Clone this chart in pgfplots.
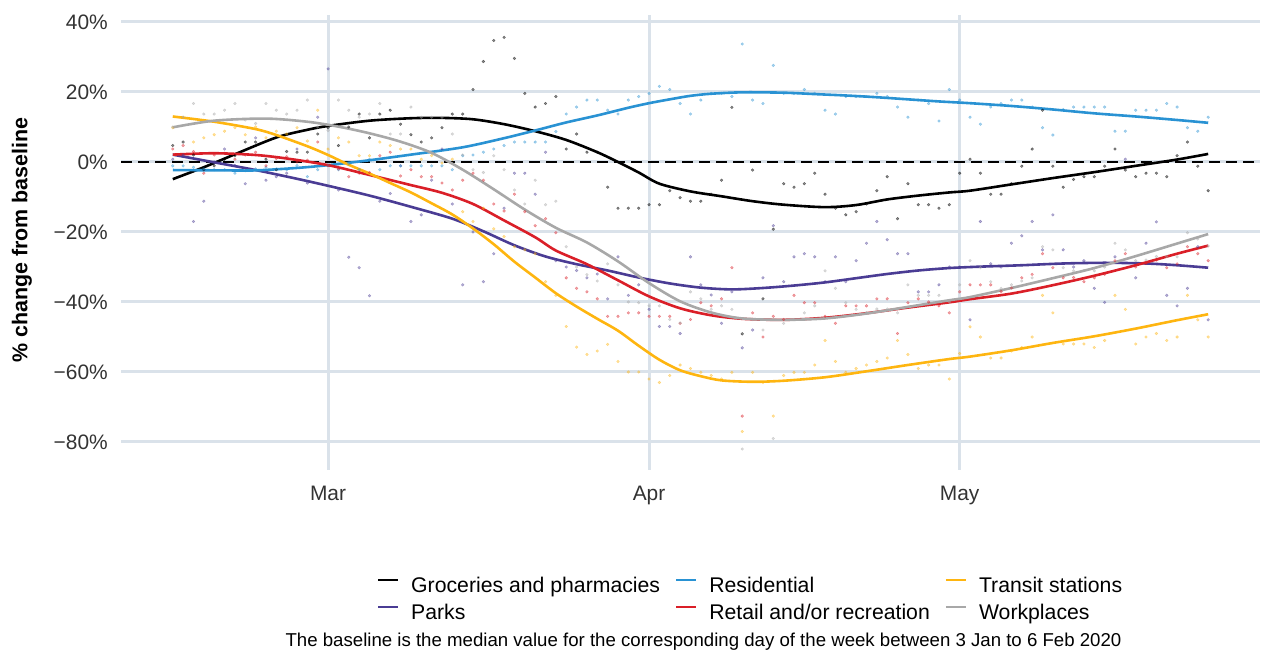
\documentclass[border=0pt]{standalone}
\usepackage{fontspec}
\setmainfont{Liberation Sans}
\usepackage{pgfplots}
\pgfplotsset{compat=1.18}
\usepackage{pgfplotstable}
\definecolor{cGro}{RGB}{0,0,0}
\definecolor{cRes}{RGB}{41,146,211}
\definecolor{cTra}{RGB}{254,181,16}
\definecolor{cPar}{RGB}{74,60,148}
\definecolor{cRet}{RGB}{218,31,40}
\definecolor{cWor}{RGB}{168,168,168}
\definecolor{cGrid}{RGB}{218,226,234}

% day: 0 = 1 March 2020
\pgfplotstableread{
day groc resid transit parks retail work
-15 4.7 -1.1 9.8 0.8 3.7 10.0
-14 5.7 -1.1 12.8 2.0 4.7 12.8
-13 2.0 -1.5 5.7 -17.0 3.0 16.7
-12 -2.2 -2.0 6.9 -11.2 -3.2 13.7
-11 -1.1 -2.2 7.8 0.0 2.0 13.7
-10 0.8 -2.2 8.8 3.7 2.5 14.8
-9 1.8 -3.2 9.8 -1.0 0.8 16.7
-8 5.7 -2.5 7.8 -6.2 2.0 12.0
-7 5.7 -2.0 10.0 6.9 2.8 11.0
-6 0.8 -1.5 6.9 -5.2 -1.1 16.7
-5 -2.2 -2.0 8.8 -4.2 1.0 14.8
-4 3.0 -2.2 8.0 -3.2 1.5 13.7
-3 2.8 -1.0 9.8 3.7 0.0 14.8
-2 2.8 -4.2 6.0 -6.0 0.5 17.7
-1 8.0 -2.2 14.8 12.8 5.7 10.0
0 9.8 -1.0 3.7 26.6 -1.0 9.0
1 4.7 -2.2 6.9 -8.0 -2.0 17.7
2 10.0 -0.5 5.7 -27.2 -4.2 14.8
3 13.7 -2.2 1.8 -30.2 -3.2 12.8
4 6.9 0.8 1.8 -38.2 -3.0 13.7
5 13.7 -2.2 5.7 -11.2 1.8 16.7
6 14.8 -1.1 4.7 -9.0 2.8 8.0
7 10.8 -1.1 3.7 -1.1 -4.0 8.0
8 7.8 -1.1 3.7 -17.0 -2.2 15.7
9 5.7 -1.1 0.8 -15.1 -4.2 12.8
10 6.9 -1.1 1.8 -5.2 -4.2 12.8
11 9.8 -1.1 -0.3 3.7 -6.0 12.8
12 13.7 -2.2 0.8 -12.0 -8.0 8.0
13 13.7 1.8 -14.2 -35.1 -5.2 2.0
14 20.7 2.0 -17.0 -20.0 -3.2 -2.2
15 28.7 2.8 -13.2 -34.2 -5.2 -3.0
16 34.7 3.7 -19.1 -26.2 -12.0 1.8
17 35.6 4.7 -21.3 -13.2 -14.0 -2.2
18 29.6 5.7 -24.2 -3.2 -9.2 -8.0
19 19.6 5.7 -25.1 -3.2 -14.2 -12.0
20 15.7 5.7 -26.2 -9.2 -18.2 -5.2
21 16.7 5.7 -34.2 2.8 -16.2 -12.2
22 18.7 8.7 -38.1 -28.2 -20.2 -11.2
23 3.7 13.7 -47.0 -30.0 -33.1 -24.2
24 8.0 15.7 -52.9 -31.0 -36.1 -30.0
25 2.8 17.7 -55.0 -33.1 -37.1 -32.2
26 2.8 17.7 -54.0 -32.0 -39.1 -34.0
27 -7.2 14.8 -52.1 -39.1 -44.1 -29.1
28 -13.2 13.7 -57.0 -27.1 -44.1 -35.1
29 -13.2 17.7 -60.0 -38.1 -43.1 -40.0
30 -13.2 18.7 -60.0 -35.1 -43.1 -40.2
31 -12.2 19.6 -62.0 -42.1 -44.1 -41.1
32 -12.2 21.6 -63.0 -47.0 -44.1 -41.1
33 -8.2 20.7 -61.0 -47.0 -44.1 -45.0
34 -10.2 16.7 -58.0 -49.0 -46.1 -46.0
35 -11.2 13.7 -59.0 -27.1 -45.0 -37.1
36 -11.2 17.7 -60.1 -35.1 -40.2 -39.1
37 -9.2 19.6 -61.0 -38.0 -41.1 -42.1
38 -5.2 19.6 -62.0 -46.1 -39.1 -41.1
39 15.6 18.7 -60.1 -37.1 -30.2 -42.1
40 -49.1 33.7 -77.0 -53.1 -72.6 -82.0
41 -2.3 17.7 -60.1 -48.0 -43.1 -45.0
42 -39.1 16.7 -63.0 -33.1 -50.0 -48.0
43 -19.2 27.6 -72.6 -18.2 -44.1 -79.0
44 -6.2 19.6 -61.0 -34.2 -45.0 -46.1
45 -7.2 19.6 -60.1 -27.1 -38.1 -45.0
46 -6.2 20.7 -60.1 -26.2 -40.2 -43.1
47 -3.2 19.6 -58.0 -27.1 -40.2 -41.1
48 -9.2 14.8 -51.0 -34.2 -44.1 -31.1
49 -13.2 13.7 -57.0 -27.1 -46.1 -36.1
50 -15.1 18.7 -60.1 -34.2 -41.1 -40.2
51 -14.2 18.7 -59.0 -28.2 -41.1 -42.1
52 -12.0 18.7 -58.0 -23.2 -41.1 -43.0
53 -8.2 19.6 -57.0 -17.0 -39.1 -42.0
54 -4.2 18.7 -56.0 -22.2 -39.1 -42.0
55 -16.2 15.7 -51.0 -26.2 -49.0 -43.1
56 -6.2 12.8 -55.0 -26.2 -40.2 -35.1
57 -12.2 17.7 -59.0 -37.1 -39.1 -38.1
58 -12.2 16.7 -58.0 -37.1 -40.0 -38.1
59 -13.2 11.7 -58.0 -35.1 -41.1 -38.1
60 -12.2 20.7 -62.0 -30.0 -43.1 -40.0
61 -3.2 17.7 -54.7 -30.0 -37.1 -35.1
62 0.8 12.8 -47.1 -45.1 -35.1 -28.2
63 -3.2 10.8 -50.0 -17.0 -35.1 -30.2
64 -9.2 15.7 -56.0 -29.1 -35.1 -34.2
65 -9.2 16.7 -56.0 -30.0 -37.0 -36.1
66 -6.2 17.7 -54.0 -23.2 -36.0 -35.1
67 -1.2 17.7 -53.0 -21.1 -33.1 -34.0
68 3.7 15.7 -50.0 -17.0 -32.1 -33.1
69 14.8 9.8 -38.1 -25.1 -26.2 -24.2
70 -1.2 7.7 -43.1 -15.1 -30.2 -25.1
71 -7.2 15.0 -52.0 -25.1 -33.1 -30.2
72 -5.0 15.7 -52.0 -30.0 -33.0 -31.1
73 -4.2 15.7 -52.0 -28.2 -34.2 -31.0
74 -4.2 15.7 -53.0 -36.1 -33.1 -31.1
75 -1.2 15.7 -51.0 -40.1 -32.1 -30.0
76 3.7 8.8 -38.1 -27.1 -28.2 -23.2
77 -2.3 8.8 -42.1 0.8 -26.2 -25.1
78 -4.2 14.8 -52.0 -33.1 -30.0 -28.2
79 -3.2 14.8 -50.0 -23.2 -29.0 -28.0
80 -3.2 14.8 -49.0 -17.1 -28.0 -27.0
81 -4.2 16.7 -51.0 -38.1 -30.2 -27.0
82 1.8 15.7 -50.0 -41.1 -29.1 -27.1
83 5.7 9.8 -38.1 -36.1 -24.2 -20.2
84 -1.2 8.8 -45.1 -24.2 -26.2 -22.0
85 -8.2 12.8 -50.0 -45.1 -28.2 -24.0
}\dots

\begin{document}
\begin{tikzpicture}
\begin{axis}[
  at={(121bp,183bp)}, anchor=south west,
  scale only axis, width=1139bp, height=455bp,
  xmin=-20, xmax=90, ymin=-88, ymax=42,
  axis line style={draw=none},
  major tick length=0pt,
  xtick={0,31,61}, xticklabels={Mar,Apr,May},
  ytick={-80,-60,-40,-20,0,20,40},
  yticklabels={−80\%,−60\%,−40\%,−20\%,0\%,20\%,40\%},
  grid=major,
  major grid style={color=cGrid, line width=3bp},
  tick label style={font=\fontsize{21}{25}\selectfont, text=black!80},
  yticklabel style={anchor=east, inner sep=0pt, xshift=-13bp},
  xticklabel style={anchor=north, inner sep=0pt, yshift=-15.5bp},
  legend columns=3,
  legend cell align=left,
  legend style={at={(axis description cs:0.2248,-0.2363)}, anchor=north west,
    draw=none, fill=none, inner sep=0pt, outer sep=0pt,
    font=\fontsize{21.3}{25}\selectfont,
    nodes={inner sep=0pt, text height=15bp, text depth=4bp},
    row sep=8bp,
    /tikz/every odd column/.append style={column sep=12bp},
    /tikz/every even column/.append style={column sep=15bp}},
  legend image code/.code={\draw[#1, line width=2.2bp] (0bp,7bp) -- (20bp,7bp);},
]
\addlegendimage{cGro}\addlegendentry{Groceries and pharmacies}
\addlegendimage{cRes}\addlegendentry{Residential}
\addlegendimage{cTra}\addlegendentry{Transit stations}
\addlegendimage{cPar}\addlegendentry{Parks}
\addlegendimage{cRet}\addlegendentry{Retail and/or recreation}
\addlegendimage{cWor}\addlegendentry{Workplaces}

\addplot[forget plot, only marks, mark=*, mark size=1.4bp, color=cGro, opacity=0.45] table[x=day, y=groc] \dots;
\addplot[forget plot, only marks, mark=*, mark size=1.4bp, color=cPar, opacity=0.4] table[x=day, y=parks] \dots;
\addplot[forget plot, only marks, mark=*, mark size=1.4bp, color=cRes, opacity=0.4] table[x=day, y=resid] \dots;
\addplot[forget plot, only marks, mark=*, mark size=1.4bp, color=cRet, opacity=0.4] table[x=day, y=retail] \dots;
\addplot[forget plot, only marks, mark=*, mark size=1.4bp, color=cTra, opacity=0.4] table[x=day, y=transit] \dots;
\addplot[forget plot, only marks, mark=*, mark size=1.4bp, color=cWor, opacity=0.4] table[x=day, y=work] \dots;

\addplot[forget plot, black, line width=2.5bp, dash pattern=on 11bp off 6bp] coordinates {(-20,0) (90,0)};

% smoothed trends
\addplot[forget plot, cGro, line width=2.6bp, smooth] coordinates {
(-15,-4.9)(-12,-1.5)(-9,2.2)(-5,7.0)(-2,9.2)(0,10.3)(4,11.8)(8,12.5)(11,12.6)(14,12.2)(17,10.8)(20,8.8)(23,6.3)(26,2.8)(28,0)(30,-3.0)(32,-6.2)(35,-8.4)(38,-9.8)(41,-11.2)(44,-12.2)(48,-12.9)(51,-12.3)(54,-10.7)(57,-9.6)(60,-8.7)(62,-8.2)(66,-6.4)(70,-4.6)(74,-2.9)(78,-1.1)(82,0.7)(85,2.3)};
\addplot[forget plot, cPar, line width=2.6bp, smooth] coordinates {
(-15,2.1)(-11,-0.1)(-7,-2.3)(-3,-4.8)(0,-6.8)(4,-9.6)(8,-12.8)(12,-16.2)(15,-19.8)(18,-23.8)(21,-27.0)(24,-29.2)(27,-31.0)(30,-33.0)(33,-34.7)(36,-35.9)(39,-36.4)(42,-36.0)(45,-35.3)(48,-34.4)(51,-33.2)(54,-32.0)(57,-31.0)(60,-30.3)(63,-29.9)(67,-29.5)(71,-29.0)(75,-28.8)(79,-29.0)(82,-29.5)(85,-30.2)};
\addplot[forget plot, cRes, line width=2.6bp, smooth] coordinates {
(-15,-2.3)(-10,-2.4)(-7,-2.4)(-3,-1.7)(0,-0.9)(4,0.5)(8,2.1)(13,4.2)(17,6.8)(20,9.0)(23,11.3)(26,13.3)(29,15.5)(31,16.8)(33,17.9)(35,18.9)(37,19.5)(40,19.9)(44,19.8)(47,19.4)(50,19.0)(53,18.5)(56,17.9)(59,17.3)(62,16.8)(66,16.0)(70,15.0)(74,13.9)(78,13.0)(82,12.0)(85,11.2)};
\addplot[forget plot, cRet, line width=2.6bp, smooth] coordinates {
(-15,2.1)(-11,2.5)(-7,2.0)(-4,1.0)(0,-0.9)(4,-3.7)(8,-6.6)(11,-8.8)(14,-12.0)(17,-16.7)(20,-21.5)(22,-25.3)(25,-29.2)(28,-33.8)(31,-38.4)(34,-41.8)(37,-43.8)(40,-44.8)(44,-45.1)(48,-44.5)(52,-43.2)(56,-41.6)(60,-40.1)(62,-39.2)(66,-37.6)(70,-35.2)(74,-32.5)(78,-29.5)(82,-26.2)(85,-23.9)};
\addplot[forget plot, cTra, line width=2.6bp, smooth] coordinates {
(-15,13.0)(-11,11.5)(-7,9.4)(-5,7.7)(-2,4.5)(0,2.0)(2,-0.8)(4,-3.3)(6,-6.0)(8,-8.7)(10,-11.8)(12,-15.0)(14,-19.0)(16,-23.5)(18,-28.5)(20,-33.0)(22,-37.5)(24,-41.3)(26,-44.8)(28,-48.2)(30,-52.5)(32,-56.5)(34,-59.5)(36,-61.2)(38,-62.4)(41,-62.8)(44,-62.5)(48,-61.5)(52,-59.8)(56,-58.0)(60,-56.3)(62,-55.6)(66,-53.8)(70,-51.7)(74,-49.8)(78,-47.6)(82,-45.2)(85,-43.5)};
\addplot[forget plot, cWor, line width=2.6bp, smooth] coordinates {
(-15,9.9)(-11,11.8)(-6,12.4)(-2,11.5)(1,10.1)(4,8.2)(7,5.8)(10,2.6)(13,-2.2)(16,-7.8)(19,-13.6)(22,-18.8)(25,-23.0)(28,-28.4)(31,-34.6)(34,-39.8)(37,-43.0)(40,-44.7)(44,-45.1)(48,-44.7)(52,-43.3)(56,-41.4)(60,-39.5)(62,-38.6)(66,-36.0)(70,-33.2)(74,-30.3)(78,-26.9)(82,-23.3)(85,-20.6)};
\end{axis}
\node[rotate=90, font=\bfseries\fontsize{21.5}{26}\selectfont, text=black] at (22bp,413bp) {\% change from baseline};
\node[anchor=base, font=\fontsize{18.7}{22}\selectfont, text=black] at (703.5bp,6.6bp) {The baseline is the median value for the corresponding day of the week between 3 Jan to 6 Feb 2020};
\pgfresetboundingbox
\useasboundingbox (0bp,0bp) rectangle (1261bp,653bp);
\end{tikzpicture}
\end{document}
